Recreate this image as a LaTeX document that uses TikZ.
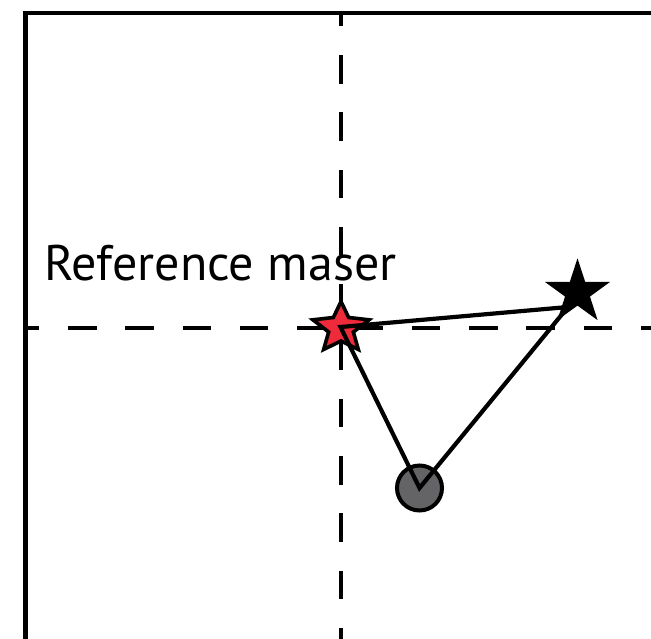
\documentclass[tikz,border=0pt]{standalone}
\usepackage{fontspec}
\setmainfont{PT Sans}
\definecolor{starred}{RGB}{238,42,59}
\definecolor{dotgray}{RGB}{100,100,102}
\begin{document}
\begin{tikzpicture}[x=1pt,y=-1pt,
  frame/.style={line width=4.8pt,line join=miter},
  axis/.style={line width=4.5pt,dash pattern=on 28.5pt off 28.8pt},
  tri/.style={line width=4.2pt,line join=miter},
  label/.style={anchor=base west,inner sep=0pt,font=\fontsize{50}{56}\selectfont}]
\clip (0,0) rectangle (651,638);
% frame
\draw[frame] (25.5,700) -- (25.5,13) -- (720,13);
% dashed axes
\draw[axis,dash phase=14.8pt] (25.5,328) -- (700,328);
\draw[axis,dash phase=15.3pt] (341,13) -- (341,700);
% label
\node[label] (lab) at (44,280) {Reference maser};
% triangle corners
\coordinate (A) at (340.5,327);
\coordinate (B) at (568,307);
% red star
\draw[line width=3.6pt,line join=miter,fill=starred]
  (341,301.5) -- (348.64,317.48) -- (369.06,319.81) -- (353.36,332.02)
  -- (358.34,349.44) -- (341,341) -- (323.66,349.44) -- (328.64,332.02)
  -- (312.94,319.81) -- (333.36,317.48) -- cycle;
% black star
\fill[black]
  (577.5,258.3) -- (585.2,281.9) -- (610.03,281.93) -- (589.96,296.55)
  -- (597.6,320.17) -- (577.5,305.6) -- (557.4,320.17) -- (565.04,296.55)
  -- (544.97,281.93) -- (569.8,281.9) -- cycle;
% circle
\node[circle,draw,line width=4pt,fill=dotgray,minimum size=45pt,inner sep=0pt] (C) at (419.5,488) {};
% connectors
\draw[tri] (A) -- (B) -- (C.center) -- cycle;
\end{tikzpicture}
\end{document}
